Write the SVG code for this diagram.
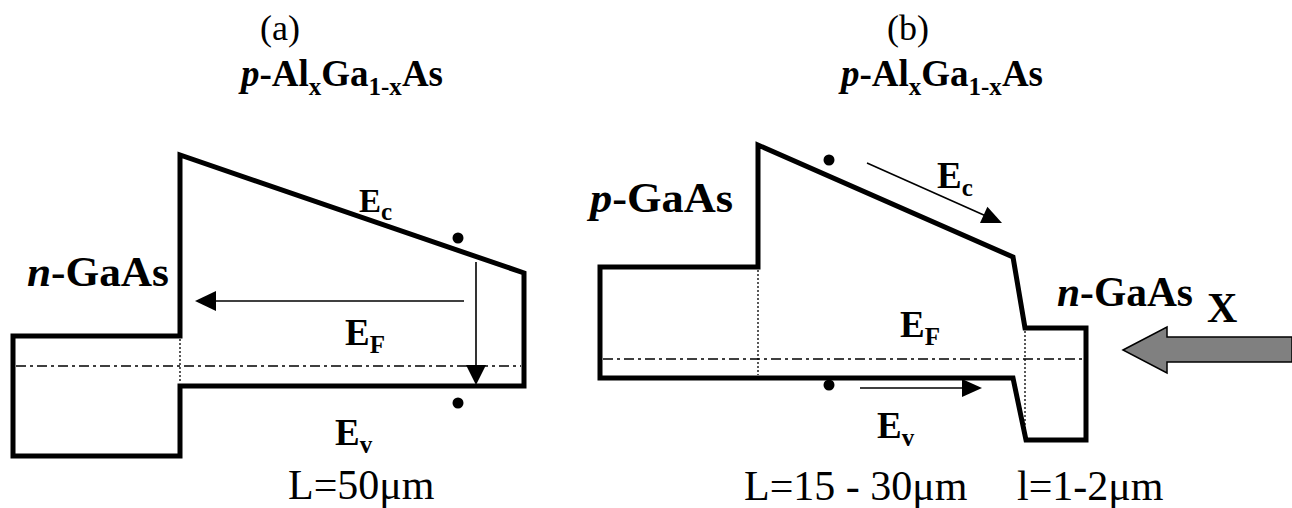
<svg xmlns="http://www.w3.org/2000/svg" width="1292" height="508" viewBox="0 0 1292 508">
<style>
text{font-family:"Liberation Serif","Times New Roman",serif;fill:#000}
.b{font-weight:bold}
.i{font-style:italic}
.band{fill:none;stroke:#000;stroke-width:5;stroke-linejoin:miter}
.dot{fill:none;stroke:#000;stroke-width:1.3;stroke-dasharray:2 2}
.dd{fill:none;stroke:#000;stroke-width:1.5;stroke-dasharray:10 4 3 4}
.ar{fill:none;stroke:#000;stroke-width:1.6}
.hd{fill:#000}
</style>
<rect width="1292" height="508" fill="#fff"/>
<g id="panel-a">
  <path class="band" d="M13,336 H180 V155 L524,273 V386 H180 V456 H13 Z"/>
  <line class="dot" x1="180" y1="339" x2="180" y2="383"/>
  <line class="dd" x1="16" y1="366" x2="521" y2="366"/>
  <circle cx="458" cy="238" r="5.5"/>
  <circle cx="458" cy="403" r="5.5"/>
  <text x="260" y="40" font-size="36">(a)</text>
  <text x="443" y="86" font-size="37" class="b" text-anchor="end"><tspan class="i">p</tspan>-Al<tspan font-size="25" dy="9">x</tspan><tspan dy="-9">Ga</tspan><tspan font-size="25" dy="9">1-x</tspan><tspan dy="-9">As</tspan></text>
  <text x="27" y="286" font-size="42" class="b" textLength="142" lengthAdjust="spacingAndGlyphs"><tspan class="i">n</tspan>-GaAs</text>
  <text x="359" y="212" font-size="33" class="b">E<tspan font-size="25" dy="8">c</tspan></text>
  <text x="345" y="345" font-size="37" class="b">E<tspan font-size="25" dy="8">F</tspan></text>
  <text x="335" y="445" font-size="37" class="b">E<tspan font-size="25" dy="8">v</tspan></text>
  <text x="288" y="499" font-size="42">L=50μm</text>
</g>
<g id="panel-b">
  <path class="band" d="M600,267 H758 V145 L1013,257 L1025,328 H1086 V440 H1026 L1013,378 H600 Z"/>
  <line class="dot" x1="758" y1="270" x2="758" y2="375"/>
  <line class="dot" x1="1025" y1="331" x2="1025" y2="437"/>
  <line class="dd" x1="603" y1="359" x2="1083" y2="359"/>
  <circle cx="829" cy="160" r="5.5"/>
  <circle cx="829" cy="385" r="5.5"/>
  <text x="887" y="40" font-size="36">(b)</text>
  <text x="1043" y="86" font-size="37" class="b" text-anchor="end"><tspan class="i">p</tspan>-Al<tspan font-size="25" dy="9">x</tspan><tspan dy="-9">Ga</tspan><tspan font-size="25" dy="9">1-x</tspan><tspan dy="-9">As</tspan></text>
  <text x="590" y="212" font-size="42" class="b" textLength="143" lengthAdjust="spacingAndGlyphs"><tspan class="i">p</tspan>-GaAs</text>
  <text x="1057" y="306" font-size="42" class="b" textLength="136" lengthAdjust="spacingAndGlyphs"><tspan class="i">n</tspan>-GaAs</text>
  <text x="1207" y="322" font-size="42" class="b">X</text>
  <text x="937" y="188" font-size="37" class="b">E<tspan font-size="25" dy="8">c</tspan></text>
  <text x="900" y="337" font-size="37" class="b">E<tspan font-size="25" dy="8">F</tspan></text>
  <text x="877" y="438" font-size="37" class="b">E<tspan font-size="25" dy="8">v</tspan></text>
  <text x="744" y="500" font-size="42">L=15 - 30μm</text>
  <text x="1017" y="500" font-size="42">l=1-2μm</text>
</g>
<g id="connectors">
  <line class="ar" x1="464" y1="301" x2="212" y2="301"/>
  <polygon class="hd" points="195,301 216,291 216,311"/>
  <line class="ar" x1="476" y1="262" x2="476" y2="368"/>
  <polygon class="hd" points="476,385 466,365 486,365"/>
  <line class="ar" x1="867" y1="163" x2="986" y2="216"/>
  <polygon class="hd" points="1002,223 980,223 987.4,206.7"/>
  <line class="ar" x1="860" y1="388" x2="964" y2="388"/>
  <polygon class="hd" points="982,388 962,379 962,397"/>
  <polygon points="1123,350 1167,327 1167,337 1292,337 1292,362 1167,362 1167,373" fill="#808080" stroke="#000" stroke-width="1.5"/>
</g>
</svg>
